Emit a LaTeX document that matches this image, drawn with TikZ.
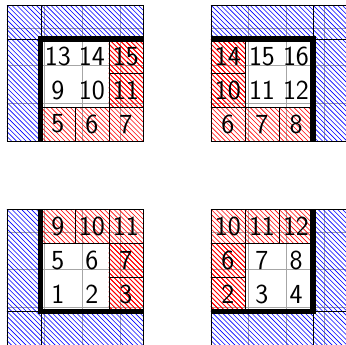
\documentclass[tikz,border=0pt]{standalone}
\usepackage{tikz}

% hatched box: corners (#1,#2) and (#3,#4), hatch colour #5
\newcommand{\hatchbox}[5]{%
    \begin{scope}
        \clip (#1,#2) rectangle (#3,#4);
        \pgfmathsetmacro\hh{#4-#2}
        \pgfmathtruncatemacro\nn{(#3-#1+#4-#2)*7}
        \foreach \k in {0,...,\nn}
            \draw[hatch, #5] ({#1-\hh+\k/7},#4) -- ++(\hh,-\hh);
    \end{scope}
    \draw (#1,#2) rectangle (#3,#4);
}

\begin{document}
\begin{tikzpicture}[x=0.9cm, y=0.9cm,
    hatch/.style={line width=0.45pt},
    edge/.style={line width=4pt},
    num/.style={font=\huge\sffamily, inner sep=0pt}]
    \useasboundingbox (-0.2,0.03) rectangle (9.97,10.15);

    % top left block
    \begin{scope}[shift={(0,6)}]
        \draw[gray!70] (0,0) grid (4,4);
        \hatchbox{0}{3}{1}{4}{blue}
        \hatchbox{1}{3}{4}{4}{blue}
        \hatchbox{0}{0}{1}{3}{blue}
        \foreach \x in {1,2,3} \hatchbox{\x}{0}{\x+1}{1}{red}
        \foreach \y in {1,2} \hatchbox{3}{\y}{4}{\y+1}{red}
        \draw[edge] (1,0) -- (1,3) -- (4,3);
        \foreach \n [count=\i from 0] in {5,6,7,9,10,11,13,14,15}
            \node[num] (tl\n) at ({1.5+mod(\i,3)},{0.5+floor(\i/3)}) {\n};
    \end{scope}

    % top right block
    \begin{scope}[shift={(6,6)}]
        \draw[gray!70] (0,0) grid (4,4);
        \hatchbox{3}{3}{4}{4}{blue}
        \hatchbox{0}{3}{3}{4}{blue}
        \hatchbox{3}{0}{4}{3}{blue}
        \foreach \x in {0,1,2} \hatchbox{\x}{0}{\x+1}{1}{red}
        \foreach \y in {1,2} \hatchbox{0}{\y}{1}{\y+1}{red}
        \draw[edge] (0,3) -- (3,3) -- (3,0);
        \foreach \n [count=\i from 0] in {6,7,8,10,11,12,14,15,16}
            \node[num] (tr\n) at ({0.5+mod(\i,3)},{0.5+floor(\i/3)}) {\n};
    \end{scope}

    % bottom left block
    \begin{scope}[shift={(0,0)}]
        \draw[gray!70] (0,0) grid (4,4);
        \hatchbox{0}{0}{1}{1}{blue}
        \hatchbox{1}{0}{4}{1}{blue}
        \hatchbox{0}{1}{1}{4}{blue}
        \foreach \x in {1,2,3} \hatchbox{\x}{3}{\x+1}{4}{red}
        \foreach \y in {1,2} \hatchbox{3}{\y}{4}{\y+1}{red}
        \draw[edge] (1,4) -- (1,1) -- (4,1);
        \foreach \n [count=\i from 0] in {1,2,3,5,6,7,9,10,11}
            \node[num] (bl\n) at ({1.5+mod(\i,3)},{1.5+floor(\i/3)}) {\n};
    \end{scope}

    % bottom right block
    \begin{scope}[shift={(6,0)}]
        \draw[gray!70] (0,0) grid (4,4);
        \hatchbox{3}{0}{4}{1}{blue}
        \hatchbox{0}{0}{3}{1}{blue}
        \hatchbox{3}{1}{4}{4}{blue}
        \foreach \x in {0,1,2} \hatchbox{\x}{3}{\x+1}{4}{red}
        \foreach \y in {1,2} \hatchbox{0}{\y}{1}{\y+1}{red}
        \draw[edge] (3,4) -- (3,1) -- (0,1);
        \foreach \n [count=\i from 0] in {2,3,4,6,7,8,10,11,12}
            \node[num] (br\n) at ({0.5+mod(\i,3)},{1.5+floor(\i/3)}) {\n};
    \end{scope}
\end{tikzpicture}
\end{document}
